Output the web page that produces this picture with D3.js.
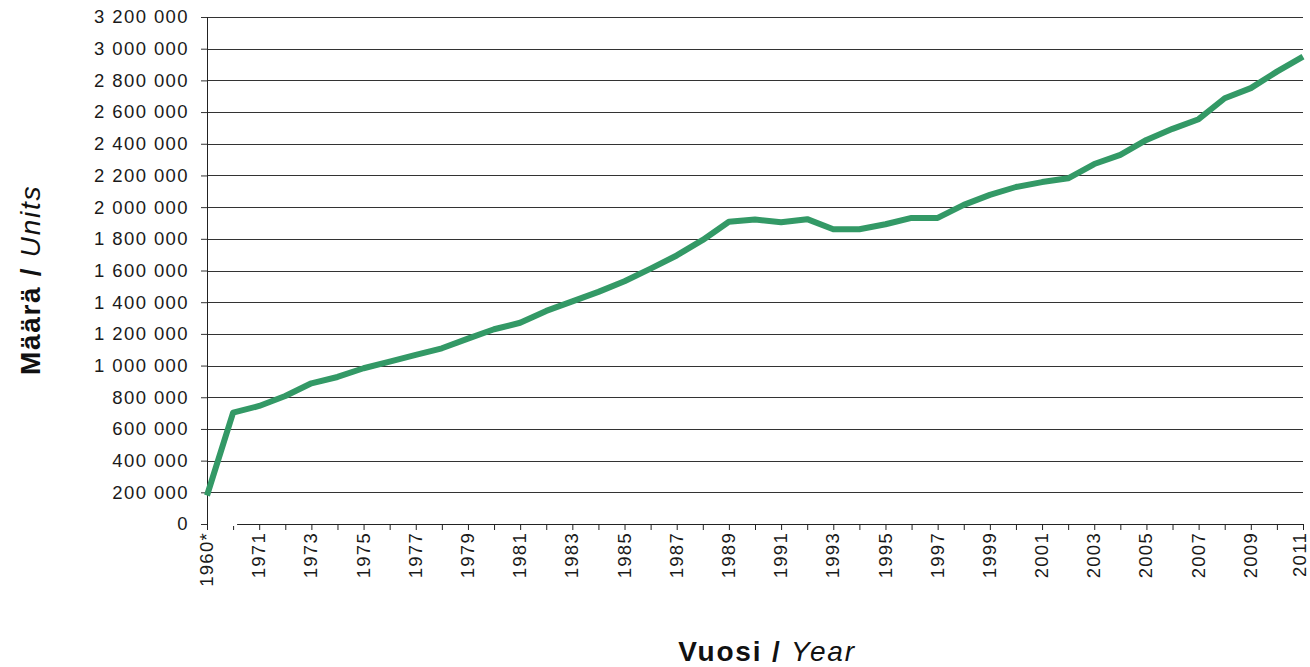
<!DOCTYPE html>
<html>
<head>
<meta charset="utf-8">
<script src="https://cdn.jsdelivr.net/npm/d3@7"></script>
<style>
  body { margin: 0; background: #fff; }
  text { font-family: "Liberation Sans", Arial, sans-serif; }
</style>
</head>
<body>
<svg id="chart" width="1310" height="667"></svg>
<script>
const years = ["1960*", "1970", "1971", "1972", "1973", "1974", "1975", "1976", "1977", "1978",
  "1979", "1980", "1981", "1982", "1983", "1984", "1985", "1986", "1987", "1988",
  "1989", "1990", "1991", "1992", "1993", "1994", "1995", "1996", "1997", "1998",
  "1999", "2000", "2001", "2002", "2003", "2004", "2005", "2006", "2007", "2008",
  "2009", "2010", "2011"];
const units = [180000, 703000, 745000, 808000, 888000, 928000, 983000, 1025000, 1067000, 1109000,
  1170000, 1229000, 1270000, 1345000, 1405000, 1465000, 1532000, 1612000, 1695000, 1793000,
  1908000, 1922000, 1905000, 1924000, 1860000, 1860000, 1892000, 1932000, 1932000, 2014000,
  2077000, 2127000, 2158000, 2182000, 2272000, 2330000, 2424000, 2494000, 2555000, 2687000,
  2751000, 2855000, 2950000];
const yTicks = d3.range(0, 3200001, 200000);

const svg = d3.select("#chart");
const margin = {t: 17, r: 7, l: 207, b: 143};
const width = +svg.attr("width");
const height = +svg.attr("height");
const graphWidth = width - margin.l - margin.r;
const graphHeight = height - margin.t - margin.b;

const graph = svg.append("g")
  .attr("transform", `translate(${margin.l}, ${margin.t})`);

const x = d3.scalePoint().domain(years).range([0, graphWidth]);
const y = d3.scaleLinear().domain([0, 3200000]).range([graphHeight, 0]);

// space as thousands separator
const fmt = d => d3.format(",")(d).replace(/,/g, " ");

// y axis with gridlines
const yAxisGroup = graph.append("g")
  .call(d3.axisLeft(y).tickValues(yTicks).tickFormat(fmt).tickSize(6).tickPadding(12));
yAxisGroup.selectAll(".tick line").attr("stroke", "#333");
yAxisGroup.select(".domain").remove();
yAxisGroup.selectAll("text")
  .attr("font-size", "18.5px").attr("fill", "#1a1a1a")
  .attr("letter-spacing", "1.4px")
  .attr("font-family", "Liberation Sans, Arial, sans-serif");

graph.append("g").selectAll("line").data(yTicks.filter(d => d > 0)).join("line")
  .attr("x1", 0).attr("x2", graphWidth)
  .attr("y1", d => Math.round(y(d)) + 0.5).attr("y2", d => Math.round(y(d)) + 0.5)
  .attr("stroke", "#333").attr("stroke-width", 1);

graph.append("line")
  .attr("x1", 0.5).attr("x2", 0.5).attr("y1", 0).attr("y2", graphHeight)
  .attr("stroke", "#222");

// x axis
const xAxisGroup = graph.append("g")
  .attr("transform", `translate(0,${graphHeight})`)
  .call(d3.axisBottom(x).tickSize(6).tickSizeOuter(0)
    .tickFormat((d, i) => i % 2 === 0 ? d : ""));
xAxisGroup.select(".domain").attr("stroke", "#222");
xAxisGroup.selectAll(".tick line").attr("stroke", "#222");
xAxisGroup.selectAll("text")
  .attr("font-size", "18.5px").attr("fill", "#1a1a1a")
  .attr("letter-spacing", "1.3px")
  .attr("font-family", "Liberation Sans, Arial, sans-serif")
  .attr("text-anchor", "end")
  .attr("transform", "rotate(-90)")
  .attr("x", -8).attr("y", 0)
  // last label sits at the svg edge, pull it in a touch
  .attr("dy", (d, i) => i === years.length - 1 ? "0.14em" : "0.3em");

// axis break between 1960* and 1970
graph.append("rect")
  .attr("x", 1).attr("y", graphHeight - 2)
  .attr("width", x(years[1]) - x(years[0]) + 3).attr("height", 4)
  .attr("fill", "#fff");

// the line
const line = d3.line().x((d, i) => x(years[i])).y(d => y(d));
graph.append("path")
  .datum(units)
  .attr("d", line)
  .attr("fill", "none")
  .attr("stroke", "#339966")
  .attr("stroke-width", 6)
  .attr("stroke-linejoin", "round");

// axis titles
const yTitle = svg.append("text")
  .attr("transform", "translate(40,280) rotate(-90)")
  .attr("text-anchor", "middle")
  .attr("font-size", "28px").attr("letter-spacing", "1.7px").attr("fill", "#111");
yTitle.append("tspan").attr("font-weight", "bold").text("Määrä / ");
yTitle.append("tspan").attr("font-style", "italic").text("Units");

const xTitle = svg.append("text")
  .attr("x", 767).attr("y", 661)
  .attr("text-anchor", "middle")
  .attr("font-size", "28px").attr("letter-spacing", "1.8px").attr("fill", "#111");
xTitle.append("tspan").attr("font-weight", "bold").text("Vuosi / ");
xTitle.append("tspan").attr("font-style", "italic").text("Year");
</script>
</body>
</html>
